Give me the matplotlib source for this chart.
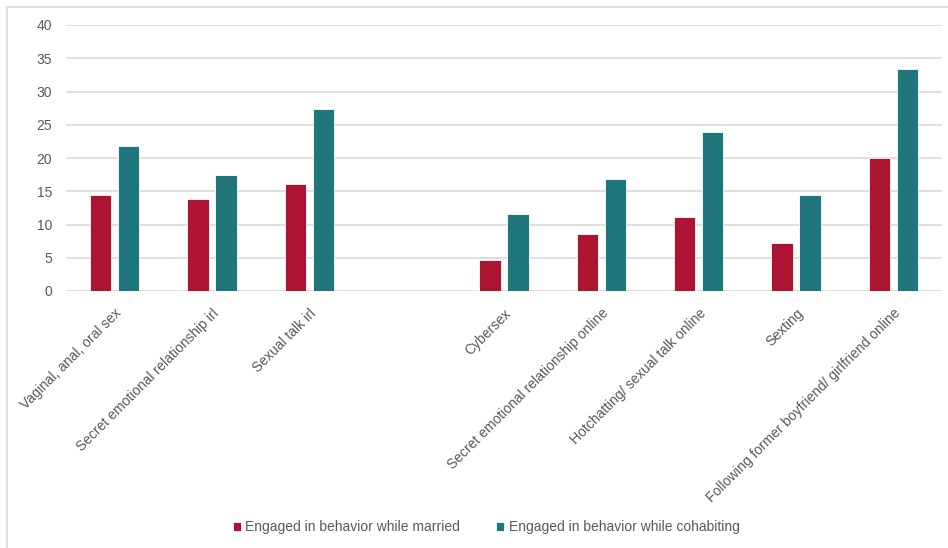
import numpy as np
import matplotlib.pyplot as plt
from matplotlib.lines import Line2D

plt.rcParams['font.family'] = ['Liberation Sans', 'DejaVu Sans']

categories = ['Vaginal, anal, oral sex', 'Secret emotional relationship irl', 'Sexual talk irl', '',
              'Cybersex', 'Secret emotional relationship online', 'Hotchatting/ sexual talk online',
              'Sexting', 'Following former boyfriend/ girlfriend online']
married = [14.5, 13.8, 16.1, np.nan, 4.6, 8.5, 11.1, 7.25, 20.0]
cohabiting = [21.8, 17.4, 27.4, np.nan, 11.65, 16.85, 23.95, 14.45, 33.45]
series_names = ['Engaged in behavior while married', 'Engaged in behavior while cohabiting']

red = '#AD1432'
teal = '#1F767B'
txt = '#595959'
grid = '#D9D9D9'

fig = plt.figure(figsize=(9.48, 5.48), dpi=100)
ax = fig.add_axes([66 / 948, 1 - 291 / 548, 876 / 948, 266 / 548])

x = np.arange(len(categories))
w = 0.22
b1 = ax.bar(x - 0.145, married, width=w, color=red, edgecolor='white', linewidth=0.6, label=series_names[0], zorder=3)
b2 = ax.bar(x + 0.145, cohabiting, width=w, color=teal, edgecolor='white', linewidth=0.6, label=series_names[1], zorder=3)

ax.set_xlim(-0.5, len(categories) - 0.5)
ax.set_ylim(0, 40)
ax.set_yticks(np.arange(0, 41, 5))
ax.yaxis.grid(True, color=grid, linewidth=1.2, zorder=0)
ax.set_axisbelow(True)
for s in ax.spines.values():
    s.set_visible(False)
ax.tick_params(axis='both', length=0, colors=txt, labelsize=10)
ax.tick_params(axis='y', pad=10)
ax.set_xticks(x)
ax.set_xticklabels(categories, rotation=45, ha='right', va='top', rotation_mode='anchor', color=txt)
ax.tick_params(axis='x', pad=11)

# chart area border (left and top only visible in the crop)
fig.add_artist(Line2D([7 / 948, 7 / 948], [0, 1 - 7 / 548], color='#D9D9D9', linewidth=1.2, transform=fig.transFigure))
fig.add_artist(Line2D([7 / 948, 1], [1 - 7 / 548, 1 - 7 / 548], color='#D9D9D9', linewidth=1.2, transform=fig.transFigure))

leg = fig.legend(handles=[b1, b2], loc='center', bbox_to_anchor=(486 / 948, 1 - 527 / 548), ncol=2,
                 frameon=False, fontsize=10, handlelength=0.6, handleheight=0.6, handletextpad=0.3,
                 columnspacing=2.6)
for t in leg.get_texts():
    t.set_color(txt)

fig.savefig('out.png', dpi=100)
